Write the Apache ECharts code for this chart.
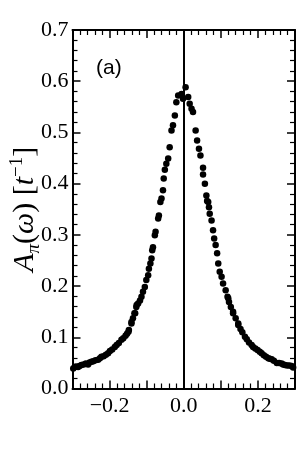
<!DOCTYPE html>
<html><head><meta charset="utf-8">
<script src="https://cdn.jsdelivr.net/npm/echarts@6/dist/echarts.min.js"></script>
<style>html,body{margin:0;padding:0;background:#fff}#c{width:298px;height:457px}</style>
</head><body><div id="c"></div>
<script>
// frequency omega (units of t) and spectral function A_pi(omega)
const omega = [
 -0.298,-0.294,-0.290,-0.285,-0.281,-0.276,-0.270,-0.264,-0.258,-0.254,-0.249,-0.244,-0.238,-0.231,-0.226,-0.222,-0.216,-0.210,-0.204,-0.199,-0.193,-0.186,-0.181,-0.175,-0.168,-0.163,-0.157,-0.153,-0.149,-0.148,-0.141,-0.141,-0.137,-0.133,-0.131,-0.128,-0.127,-0.123,-0.118,-0.114,-0.110,-0.105,-0.101,-0.096,-0.094,-0.090,-0.087,-0.085,-0.083,-0.078,-0.076,-0.069,-0.067,-0.063,-0.060,-0.056,-0.054,-0.051,-0.047,-0.042,-0.038,-0.033,-0.029,-0.024,-0.020,-0.015,-0.006,-0.002,
 0.005,0.012,0.016,0.021,0.025,0.032,0.036,0.041,0.045,0.052,0.052,0.057,0.061,0.063,0.066,0.068,0.070,0.075,0.079,0.082,0.086,0.090,0.093,0.097,0.102,0.106,0.113,0.118,0.120,0.122,0.127,0.133,0.133,0.140,0.147,0.147,0.153,0.158,0.165,0.170,0.176,0.183,0.187,0.193,0.199,0.205,0.210,0.216,0.222,0.228,0.232,0.237,0.243,0.251,0.257,0.264,0.268,0.273,0.279,0.285,0.291,0.295
];
const spectral = [
 0.039,0.042,0.043,0.042,0.044,0.046,0.047,0.049,0.047,0.051,0.052,0.053,0.055,0.056,0.059,0.062,0.063,0.066,0.069,0.073,0.076,0.081,0.085,0.089,0.095,0.098,0.103,0.107,0.111,0.114,0.127,0.130,0.137,0.147,0.147,0.159,0.163,0.166,0.172,0.179,0.189,0.198,0.212,0.221,0.234,0.244,0.254,0.270,0.276,0.299,0.306,0.332,0.338,0.364,0.371,0.387,0.410,0.427,0.439,0.449,0.471,0.504,0.514,0.533,0.559,0.572,0.575,0.566,
 0.588,0.569,0.556,0.546,0.540,0.504,0.484,0.468,0.455,0.431,0.418,0.400,0.377,0.366,0.364,0.354,0.341,0.328,0.309,0.293,0.280,0.264,0.244,0.228,0.218,0.205,0.192,0.179,0.176,0.169,0.159,0.150,0.147,0.137,0.127,0.124,0.116,0.110,0.101,0.096,0.090,0.085,0.081,0.078,0.075,0.072,0.069,0.065,0.062,0.059,0.058,0.057,0.054,0.050,0.050,0.049,0.047,0.046,0.045,0.045,0.044,0.041
];
const xTickLabels = {'-0.2':'\u22120.2','0':'0.0','0.2':'0.2'};
const panelLabel = '(a)';

const serif = '"Liberation Serif","Times New Roman",serif';
const chart = echarts.init(document.getElementById('c'), null, {renderer:'canvas'});
// each frame axis sits on the zero of a hidden helper axis whose zero is at the grid edge
const axLine = (idx) => ({show:true, onZero:true, onZeroAxisIndex:idx, lineStyle:{color:'#000', width:2}});
const tick = () => ({show:true, inside:true, length:8, lineStyle:{color:'#000', width:1.5}});
const minor = () => ({show:true, splitNumber:5, length:5, lineStyle:{color:'#000', width:1.2}});
const hidden = (mn, mx) => ({type:'value', min:mn, max:mx, show:false});
const RS = 30, SS = 19;
chart.setOption({
  animation:false,
  backgroundColor:'#fff',
  grid:{left:72.5, right:3, top:30, bottom:68.5, containLabel:false, outerBoundsMode:'none'},
  xAxis:[
    {type:'value', min:-0.3, max:0.3, interval:0.1, position:'bottom',
     axisLine:axLine(2), axisTick:tick(), minorTick:minor(), splitLine:{show:false}, minorSplitLine:{show:false},
     axisLabel:{show:true, margin:7, color:'#000', fontFamily:serif, fontSize:22,
       formatter:v=>{const k=String(Math.round(v*10)/10); return xTickLabels[k]!==undefined?xTickLabels[k]:'';}}},
    {type:'value', min:-0.3, max:0.3, interval:0.1, position:'top',
     axisLine:axLine(3), axisTick:tick(), minorTick:minor(), splitLine:{show:false}, axisLabel:{show:false}},
    hidden(0, 1),
    hidden(-1, 0)
  ],
  yAxis:[
    {type:'value', min:0, max:0.7, interval:0.1, position:'left',
     axisLine:axLine(2), axisTick:tick(), minorTick:minor(), splitLine:{show:false}, minorSplitLine:{show:false},
     axisLabel:{show:true, margin:4, color:'#000', fontFamily:serif, fontSize:22, formatter:v=>v.toFixed(1)},
     name:'{it|A}{sub|\u03c0}{n|(}{it|\u03c9}{n|) [}{it|t}{sup|\u22121}{n|]}',
     nameLocation:'middle', nameRotate:90, nameGap:29, nameMoveOverlap:false,
     nameTextStyle:{color:'#000', fontFamily:serif, fontSize:RS,
       rich:{
         it:{fontFamily:serif, fontSize:RS, fontStyle:'italic', color:'#000', lineHeight:36, verticalAlign:'middle'},
         n:{fontFamily:serif, fontSize:RS, color:'#000', lineHeight:36, verticalAlign:'middle'},
         sub:{fontFamily:serif, fontSize:SS, fontStyle:'italic', color:'#000', lineHeight:36, verticalAlign:'bottom'},
         sup:{fontFamily:serif, fontSize:SS, color:'#000', lineHeight:36, verticalAlign:'top'}
       }}},
    {type:'value', min:0, max:0.7, interval:0.1, position:'right',
     axisLine:axLine(3), axisTick:tick(), minorTick:minor(), splitLine:{show:false}, axisLabel:{show:false}},
    hidden(0, 1),
    hidden(-1, 0)
  ],
  graphic:[{type:'text', left:96, top:58, style:{text:panelLabel, font:'21px "Liberation Sans", Arial, sans-serif', fill:'#000'}}],
  series:[{
    type:'scatter', xAxisIndex:0, yAxisIndex:0, symbol:'circle', symbolSize:6.5,
    itemStyle:{color:'#000', opacity:1},
    data:omega.map((w,i)=>[w, spectral[i]]),
    markLine:{silent:true, symbol:['none','none'], label:{show:false},
      lineStyle:{color:'#000', width:2, type:'solid'},
      data:[[{coord:[0,0]},{coord:[0,0.7]}]]}
  }]
});
</script></body></html>
